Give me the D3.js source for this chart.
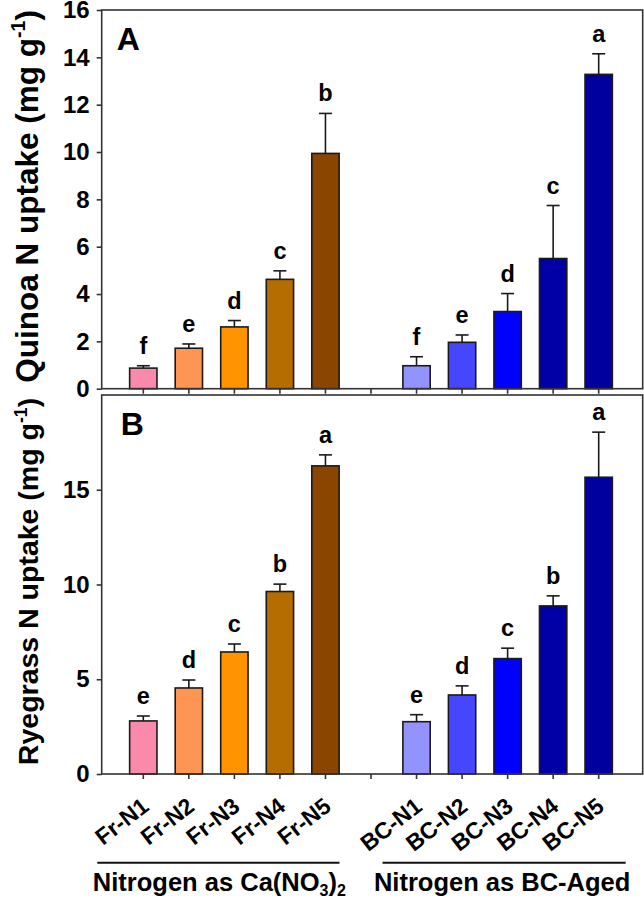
<!DOCTYPE html>
<html>
<head>
<meta charset="utf-8">
<script src="https://cdn.jsdelivr.net/npm/d3@7"></script>
<style>
  body { margin: 0; background: #fff; }
  text { font-family: 'Liberation Sans', Arial, sans-serif; font-weight: bold; fill: #000; }
</style>
</head>
<body>
<script>
// treatments, an empty slot sits between the two groups
var frLabels = ['Fr-N1', 'Fr-N2', 'Fr-N3', 'Fr-N4', 'Fr-N5'];
var bcLabels = ['BC-N1', 'BC-N2', 'BC-N3', 'BC-N4', 'BC-N5'];
var barColors = ['#f98aab', '#ff9552', '#ff9400', '#b56c00', '#8a4600',
                 '#9393ff', '#4646ff', '#0000ff', '#0000a6', '#00009f'];

// panel A - quinoa
var quinoaMeans   = [0.87, 1.71, 2.61, 4.62, 9.94, 0.97, 1.96, 3.26, 5.50, 13.28];
var quinoaErrors  = [0.10, 0.18, 0.27, 0.36, 1.69, 0.38, 0.31, 0.76, 2.24, 0.87];
var quinoaLetters = ['f', 'e', 'd', 'c', 'b', 'f', 'e', 'd', 'c', 'a'];
var quinoaTicks   = [0, 2, 4, 6, 8, 10, 12, 14, 16];

// panel B - ryegrass
var ryegrassMeans   = [2.80, 4.54, 6.44, 9.63, 16.26, 2.76, 4.17, 6.09, 8.87, 15.66];
var ryegrassErrors  = [0.26, 0.42, 0.42, 0.39, 0.58, 0.37, 0.48, 0.55, 0.53, 2.38];
var ryegrassLetters = ['e', 'd', 'c', 'b', 'a', 'e', 'd', 'c', 'b', 'a'];
var ryegrassTicks   = [0, 5, 10, 15];

var groupNames = ['Nitrogen as Ca(NO', 'Nitrogen as BC-Aged'];

var width = 644;
var height = 900;
var LEFT = 101.7;
var RIGHT = 642.7;

var slots = frLabels.concat(['gap']).concat(bcLabels);
var categories = frLabels.concat(bcLabels);

var svg = d3.select('body').append('svg')
  .attr('width', width).attr('height', height);

var x = d3.scaleBand()
  .domain(slots)
  .range([LEFT, RIGHT])
  .paddingInner(0)
  .paddingOuter(0.44)
  .align(0.47);

function cx(name) { return x(name) + x.bandwidth() / 2; }

function drawPanel(top, bottom, maxY, ticks, means, errors, letters, letter, title, titleSize, showLabels)
{
  var y = d3.scaleLinear().domain([0, maxY]).range([bottom, top]);
  var g = svg.append('g');
  var barW = x.bandwidth() * 0.6;

  // bars
  g.selectAll('rect.bar').data(categories).enter().append('rect')
    .attr('class', 'bar')
    .attr('x', function(d) { return cx(d) - barW / 2; })
    .attr('y', function(d, i) { return y(means[i]); })
    .attr('width', barW)
    .attr('height', function(d, i) { return y(0) - y(means[i]); })
    .attr('fill', function(d, i) { return barColors[i]; })
    .attr('stroke', '#1a1a1a')
    .attr('stroke-width', 1.6);

  // upper error bars
  g.selectAll('line.err').data(categories).enter().append('line')
    .attr('x1', function(d) { return cx(d); })
    .attr('x2', function(d) { return cx(d); })
    .attr('y1', function(d, i) { return y(means[i]); })
    .attr('y2', function(d, i) { return y(means[i] + errors[i]); })
    .attr('stroke', '#1a1a1a').attr('stroke-width', 1.6);
  g.selectAll('line.cap').data(categories).enter().append('line')
    .attr('x1', function(d) { return cx(d) - 6.5; })
    .attr('x2', function(d) { return cx(d) + 6.5; })
    .attr('y1', function(d, i) { return y(means[i] + errors[i]); })
    .attr('y2', function(d, i) { return y(means[i] + errors[i]); })
    .attr('stroke', '#1a1a1a').attr('stroke-width', 1.6);

  // significance letters
  g.selectAll('text.sig').data(categories).enter().append('text')
    .attr('x', function(d) { return cx(d); })
    .attr('y', function(d, i) { return y(means[i] + errors[i]) - 12; })
    .attr('text-anchor', 'middle')
    .style('font-size', '23.5px')
    .text(function(d, i) { return letters[i]; });

  // frame
  g.append('rect')
    .attr('x', LEFT).attr('y', top)
    .attr('width', RIGHT - LEFT).attr('height', bottom - top)
    .attr('fill', 'none').attr('stroke', '#333').attr('stroke-width', 1.6);

  // y axis
  var ya = g.append('g').attr('transform', 'translate(' + LEFT + ',0)')
    .call(d3.axisLeft(y).tickValues(ticks).tickSize(5).tickPadding(7).tickFormat(d3.format('d')));
  ya.select('.domain').remove();
  ya.selectAll('line').attr('stroke', '#333').attr('stroke-width', 1.6);
  ya.selectAll('text').style('font-size', '24px').style('font-family', null).attr('fill', '#000');

  // x axis, tick at every slot
  var xa = g.append('g').attr('transform', 'translate(0,' + bottom + ')')
    .call(d3.axisBottom(x).tickSize(5).tickFormat(function(d) { return (showLabels && d != 'gap') ? d : ''; }));
  xa.select('.domain').remove();
  xa.selectAll('line').attr('stroke', '#333').attr('stroke-width', 1.6);
  if (showLabels)
  {
    xa.selectAll('text')
      .style('font-size', '23px').style('font-family', null).attr('fill', '#000')
      .attr('text-anchor', 'end')
      .attr('dy', null)
      .attr('y', 0)
      .attr('transform', 'translate(7,35) rotate(-38)');
  }

  // panel letter
  g.append('text')
    .attr('x', LEFT + (letter == 'A' ? 15 : 19))
    .attr('y', top + 40)
    .style('font-size', '32px')
    .text(letter);

  // y title with superscript
  var t = g.append('text')
    .attr('transform', 'translate(38,' + ((top + bottom) / 2 - 3) + ') rotate(-90)')
    .attr('text-anchor', 'middle')
    .style('font-size', titleSize + 'px');
  t.append('tspan').text(title + ' (mg g');
  t.append('tspan').style('font-size', (titleSize * 0.62) + 'px').attr('dy', -titleSize * 0.4).text('-1');
  t.append('tspan').attr('dy', titleSize * 0.4).text(')');
}

drawPanel(10, 388.7, 16, quinoaTicks, quinoaMeans, quinoaErrors, quinoaLetters, 'A', 'Quinoa N uptake', 31.5, false);
drawPanel(395, 774, 20, ryegrassTicks, ryegrassMeans, ryegrassErrors, ryegrassLetters, 'B', 'Ryegrass N uptake', 28.5, true);

// group underlines and names
var groups = [frLabels, bcLabels];
var lineLeft = [46, 34];
var lineRight = [14, 27];
for (k = 0; k < groups.length; k++)
{
  var x1 = cx(groups[k][0]) - lineLeft[k];
  var x2 = cx(groups[k][4]) + lineRight[k];
  svg.append('line')
    .attr('x1', x1).attr('x2', x2)
    .attr('y1', 862.7).attr('y2', 862.7)
    .attr('stroke', '#111').attr('stroke-width', 2);
  var label = svg.append('text')
    .attr('x', (x1 + x2) / 2 + (k == 0 ? 1 : -2))
    .attr('y', 891)
    .attr('text-anchor', 'middle')
    .style('font-size', '25.5px');
  label.append('tspan').text(groupNames[k]);
  if (k == 0)
  {
    label.append('tspan').style('font-size', '16px').attr('dy', 5).text('3');
    label.append('tspan').attr('dy', -5).text(')');
    label.append('tspan').style('font-size', '16px').attr('dy', 5).text('2');
  }
}
</script>
</body>
</html>
